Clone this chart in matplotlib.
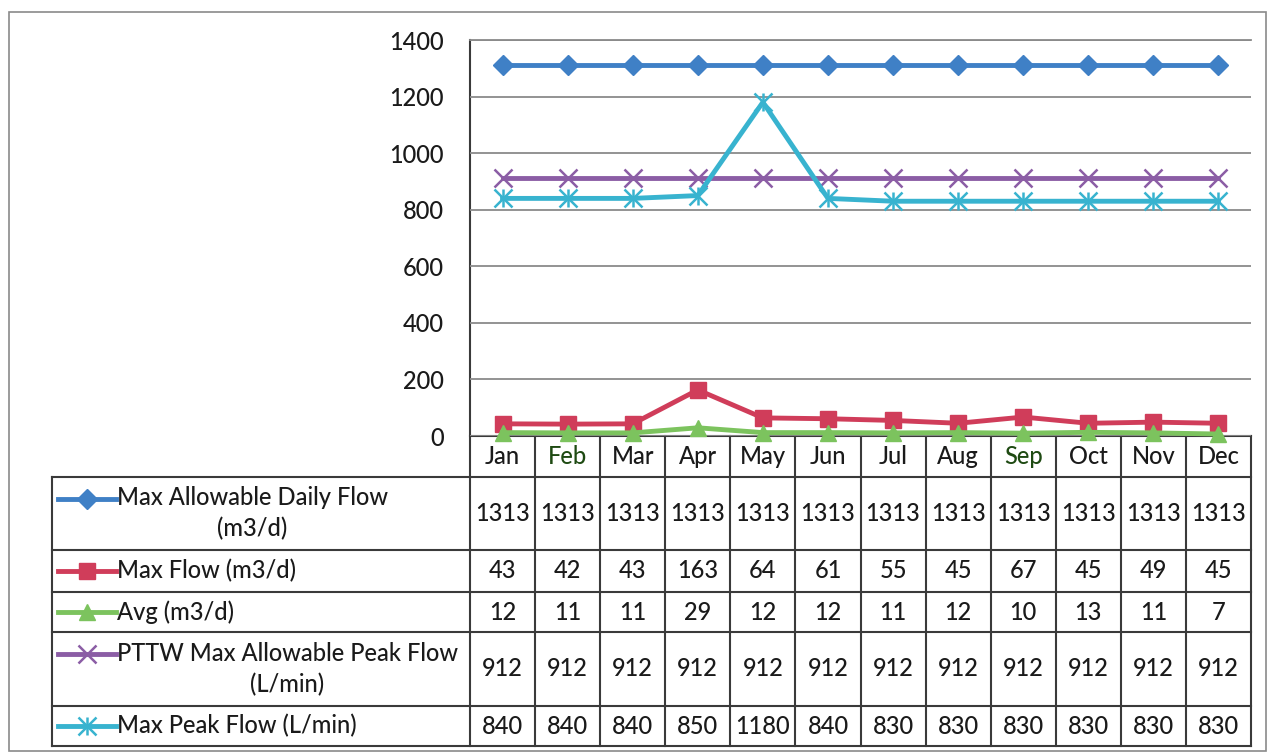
import matplotlib
matplotlib.use("Agg")
import matplotlib.pyplot as plt
from matplotlib.patches import Rectangle

plt.rcParams['font.family'] = ['Lato', 'DejaVu Sans']
plt.rcParams['font.weight'] = 'medium'

# data
months = ['Jan', 'Feb', 'Mar', 'Apr', 'May', 'Jun', 'Jul', 'Aug', 'Sep', 'Oct', 'Nov', 'Dec']
max_allow_daily = [1313] * 12
max_flow = [43, 42, 43, 163, 64, 61, 55, 45, 67, 45, 49, 45]
avg_flow = [12, 11, 11, 29, 12, 12, 11, 12, 10, 13, 11, 7]
pttw_peak = [912] * 12
max_peak = [840, 840, 840, 850, 1180, 840, 830, 830, 830, 830, 830, 830]

series_labels = ['Max Allowable Daily Flow\n(m3/d)', 'Max Flow (m3/d)', 'Avg (m3/d)',
                 'PTTW Max Allowable Peak Flow\n(L/min)', 'Max Peak Flow (L/min)']
series_values = [max_allow_daily, max_flow, avg_flow, pttw_peak, max_peak]
colors = ['#3F80C6', '#D03D5A', '#7CC35E', '#8B5DA5', '#38B3CF']
markers = ['D', 's', '^', 'x', 'x']
msizes = [10, 12, 11, 13, 13]

FS = 17
TXT = '#1a1a1a'
W, H = 1268, 753
fig = plt.figure(figsize=(W / 100, H / 100), dpi=100)

# overlay in pixel coords for table and frame
tab = fig.add_axes([0, 0, 1, 1])
tab.set_xlim(0, W)
tab.set_ylim(H, 0)
tab.axis('off')
tab.add_patch(Rectangle((9, 12), W - 11, H - 14, fill=False, ec='#8a8a8a', lw=1.2))


def draw_series(a, xs, ys, c, m, ms, lw=3.5):
    mew = 1.8 if m == 'x' else 1
    a.plot(xs, ys, color=c, lw=lw, marker=m, markersize=ms,
           markeredgewidth=mew, markeredgecolor=c, clip_on=False, zorder=3)


# plot area
px0, px1, py0, py1 = 470, 1251, 40, 436
ax = fig.add_axes([px0 / W, 1 - py1 / H, (px1 - px0) / W, (py1 - py0) / H])
x = list(range(len(months)))
for vals, c, m, ms in zip(series_values, colors, markers, msizes):
    draw_series(ax, x, vals, c, m, ms)
# vertical bar turns the x into the asterisk marker of Max Peak Flow
ax.plot(x, max_peak, ls='none', marker='|', markersize=13, markeredgewidth=1.8,
        color=colors[4], clip_on=False, zorder=3)
ax.set_xlim(-0.5, 11.5)
ax.set_ylim(0, 1400)
ax.set_yticks(range(0, 1401, 200))
ax.grid(axis='y', color='#8a8a8a', lw=1.3)
ax.set_axisbelow(True)
ax.set_xticks([])
for s in ['right', 'bottom', 'left']:
    ax.spines[s].set_visible(False)
ax.spines['top'].set_color('#8a8a8a')
ax.spines['top'].set_linewidth(1.3)
ax.tick_params(axis='y', length=0, pad=19, labelsize=FS, labelcolor=TXT)
ax.patch.set_alpha(0)

# data table
cw = (px1 - px0) / 12
row_edges = [436, 477, 550, 592, 632, 706, 746]
tx0 = 52
lc = '#3a3a3a'
tlw = 1.5
tab.plot([px0, px1], [row_edges[0]] * 2, color=lc, lw=tlw)
for y in row_edges[1:]:
    tab.plot([tx0, px1], [y, y], color=lc, lw=tlw)
tab.plot([tx0, tx0], [row_edges[1], row_edges[-1]], color=lc, lw=tlw)
tab.plot([px0, px0], [py0, row_edges[-1]], color=lc, lw=tlw)
for i in range(1, 13):
    xe = px0 + i * cw
    tab.plot([xe, xe], [row_edges[0], row_edges[-1]], color=lc, lw=tlw)

# month headers
for i, mth in enumerate(months):
    col = '#1E4A12' if mth in ('Feb', 'Sep') else TXT
    tab.text(px0 + (i + 0.5) * cw, (row_edges[0] + row_edges[1]) / 2, mth,
             ha='center', va='center', fontsize=FS, color=col)

# rows
for r, (lab, vals, c, m, ms) in enumerate(zip(series_labels, series_values, colors, markers, msizes)):
    yc = (row_edges[r + 1] + row_edges[r + 2]) / 2
    two = '\n' in lab
    ly = yc - 15 if two else yc
    draw_series(tab, [58, 87, 116], [ly, ly, ly], c, 'None', ms)
    tab.plot([87], [ly], marker=m, markersize=ms, color=c,
             markeredgewidth=1.8 if m == 'x' else 1, zorder=4)
    if r == 4:
        tab.plot([87], [ly], marker='|', markersize=ms, color=c, markeredgewidth=1.8, zorder=4)
    tab.text(117, yc, lab, ha='left', va='center', multialignment='center',
             fontsize=FS, color=TXT, linespacing=1.4)
    for i, v in enumerate(vals):
        tab.text(px0 + (i + 0.5) * cw, yc, str(v), ha='center', va='center',
                 fontsize=FS, color=TXT)

fig.savefig('out.png', dpi=100)
